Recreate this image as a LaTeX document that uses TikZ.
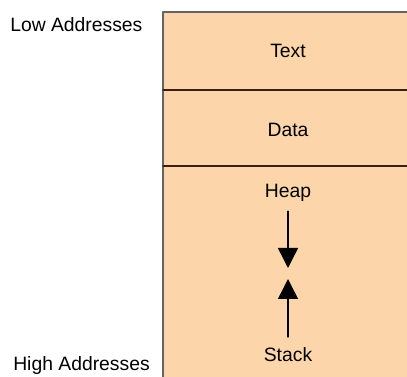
\documentclass[tikz,border=0pt]{standalone}
\usepackage{fontspec}
\setmainfont{Liberation Sans}
\usepackage{tikz}
\usetikzlibrary{arrows.meta}
\definecolor{segfill}{RGB}{252,214,170}
\definecolor{segline}{RGB}{60,30,20}
\definecolor{boxline}{RGB}{100,100,100}
\begin{document}
\begin{tikzpicture}[line cap=round,line join=round,>={Triangle[width=15pt,length=15pt]},x=0.75pt,y=-0.75pt,
    lbl/.style={inner sep=0pt,font=\fontsize{14.5}{17}\selectfont}]
        \useasboundingbox (0,0) rectangle (407,377);
        \clip (0,0) rectangle (407,377);
        \fill[segfill] (163,12) rectangle (420,390);
        \draw[color=boxline,line width=1.2pt] (163,390) -- (163,12) -- (420,12);
        \draw[color=segline,line width=1pt] (163,90) -- (420,90);
        \draw[color=segline,line width=1pt] (163,166) -- (420,166);
        \node[lbl,anchor=west] (low) at (10,25) {Low Addresses};
        \node[lbl,anchor=west] (high) at (13,366) {High Addresses};
        \node[lbl] (text) at (288,51) {Text};
        \node[lbl] (data) at (288,130) {Data};
        \node[lbl] (heap) at (288,193) {Heap};
        \node[lbl] (stack) at (288,355) {Stack};
        \coordinate (heapend) at (288,268);
        \coordinate (stackend) at (288,279);
        \draw[->,color=black,line width=1.1pt] ([yshift=-7pt]heap.south) -- (heapend);
        \draw[->,color=black,line width=1.1pt] ([yshift=8pt]stack.north) -- (stackend);
\end{tikzpicture}
\end{document}
